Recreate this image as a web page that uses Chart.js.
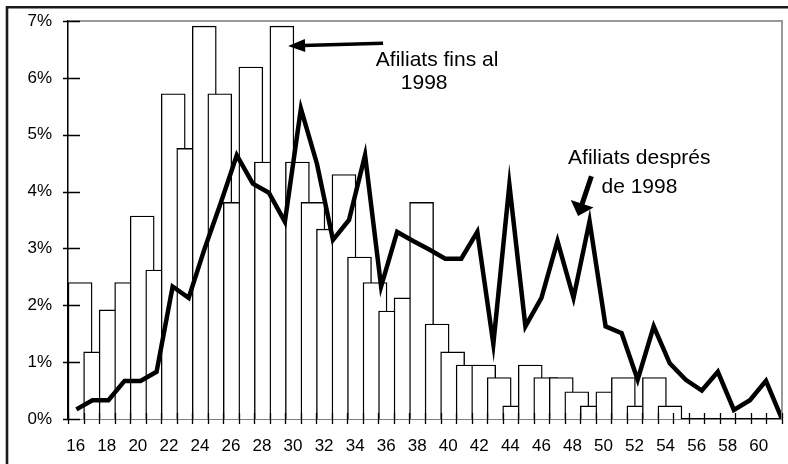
<!DOCTYPE html>
<html>
<head>
<meta charset="utf-8">
<script src="https://cdn.jsdelivr.net/npm/chart.js@4.4.1/dist/chart.umd.min.js"></script>
<style>
  html, body { margin: 0; padding: 0; background: #fff; }
</style>
</head>
<body>
<canvas id="c" width="788" height="464"></canvas>
<script>
// Ages on the category axis (every other one is labelled)
const ages = [16, 17, 18, 19, 20, 21, 22, 23, 24, 25, 26, 27, 28, 29, 30, 31, 32, 33, 34, 35,
              36, 37, 38, 39, 40, 41, 42, 43, 44, 45, 46, 47, 48, 49, 50, 51, 52, 53, 54, 55,
              56, 57, 58, 59, 60, 61];

// Bars: afiliats fins al 1998 (% per age)
const finsAl1998 = [2.40, 1.18, 1.92, 2.40, 3.57, 2.62, 5.72, 4.76, 6.91, 5.72,
                    3.81, 6.19, 4.52, 6.91, 4.52, 3.81, 3.34, 4.30, 2.85, 2.40,
                    1.90, 2.13, 3.81, 1.67, 1.18, 0.95, 0.95, 0.73, 0.23, 0.95,
                    0.73, 0.73, 0.48, 0.23, 0.48, 0.73, 0.23, 0.73, 0.23,
                    null, null, null, null, null, null, null];

// Line: afiliats després de 1998 (% per age)
const despres1998 = [0.17, 0.33, 0.33, 0.67, 0.67, 0.83, 2.33, 2.13, 3.00, 3.80,
                     4.64, 4.14, 3.98, 3.47, 5.46, 4.49, 3.15, 3.50, 4.64, 2.33,
                     3.29, 3.13, 2.98, 2.82, 2.82, 3.29, 1.32, 4.12, 1.63, 2.13,
                     3.13, 2.13, 3.48, 1.63, 1.51, 0.69, 1.63, 0.98, 0.69, 0.50,
                     0.83, 0.16, 0.33, 0.67, 0.00];

const yTicks = [0, 1, 2, 3, 4, 5, 6, 7];

const FONT = '"Liberation Sans", Arial, sans-serif';
const INK  = '#000';

// Text + arrows, anchored in (category index, %) units
const notes = [
  { text: 'Afiliats fins al', x: 19.33, y: 6.21 },
  { text: '1998',             x: 20.94, y: 5.80 },
  { text: 'Afiliats després', x: 31.72, y: 4.49 },
  { text: 'de 1998',          x: 33.87, y: 3.98 },
];
const arrows = [
  { from: [19.8, 6.61],  to: [13.68, 6.56], shaft: 3.5, head: 17, half: 6.5 },
  { from: [33.22, 4.27], to: [32.36, 3.57], shaft: 5,   head: 13, half: 12 },
];

const decorPlugin = {
  id: 'decor',
  beforeDraw(chart) {
    const { ctx } = chart;
    ctx.save();
    // outer frame (right/bottom fall outside the picture)
    ctx.strokeStyle = '#1a1a1a';
    ctx.lineWidth = 2.6;
    ctx.beginPath();
    ctx.moveTo(7, 470);
    ctx.lineTo(7, 7.3);
    ctx.lineTo(800, 7.3);
    ctx.stroke();
    ctx.restore();
  },
  afterDatasetsDraw(chart) {
    const { ctx, chartArea: a } = chart;
    const xs = chart.scales.x, ys = chart.scales.y;
    ctx.save();
    // plot frame, top and right in grey
    ctx.strokeStyle = '#999';
    ctx.lineWidth = 2;
    ctx.beginPath();
    ctx.moveTo(a.left, a.top);
    ctx.lineTo(a.right, a.top);
    ctx.lineTo(a.right, a.bottom);
    ctx.stroke();

    // cross tick marks
    ctx.strokeStyle = INK;
    ctx.lineWidth = 1.3;
    ctx.beginPath();
    yTicks.forEach(v => {
      const py = Math.round(ys.getPixelForValue(v)) + 0.5;
      ctx.moveTo(a.left - 5, py);
      ctx.lineTo(a.left + 12, py);
    });
    for (let k = 0; k <= ages.length; k++) {
      const px = Math.round(xs.getPixelForValue(k - 0.5)) + 0.5;
      ctx.moveTo(px, a.bottom - 6);
      ctx.lineTo(px, a.bottom + 5);
    }
    ctx.stroke();

    // notes
    ctx.fillStyle = INK;
    ctx.font = '21px ' + FONT;
    ctx.textBaseline = 'alphabetic';
    ctx.textAlign = 'left';
    notes.forEach(n => ctx.fillText(n.text, xs.getPixelForValue(n.x), ys.getPixelForValue(n.y)));

    arrows.forEach(ar => {
      const x0 = xs.getPixelForValue(ar.from[0]), y0 = ys.getPixelForValue(ar.from[1]);
      const x1 = xs.getPixelForValue(ar.to[0]),   y1 = ys.getPixelForValue(ar.to[1]);
      const ang = Math.atan2(y1 - y0, x1 - x0);
      const bx = x1 - Math.cos(ang) * ar.head, by = y1 - Math.sin(ang) * ar.head;
      ctx.lineWidth = ar.shaft;
      ctx.lineCap = 'butt';
      ctx.beginPath();
      ctx.moveTo(x0, y0);
      ctx.lineTo(bx + Math.cos(ang) * 2, by + Math.sin(ang) * 2);
      ctx.stroke();
      ctx.beginPath();
      ctx.moveTo(x1, y1);
      ctx.lineTo(bx + Math.sin(ang) * ar.half, by - Math.cos(ang) * ar.half);
      ctx.lineTo(bx - Math.sin(ang) * ar.half, by + Math.cos(ang) * ar.half);
      ctx.closePath();
      ctx.fill();
    });
    ctx.restore();
  },
};

new Chart(document.getElementById('c'), {
  type: 'bar',
  data: {
    labels: ages,
    datasets: [
      {
        type: 'line',
        label: 'Afiliats després de 1998',
        data: despres1998.map((v, i) => ({ x: i, y: v })),
        xAxisID: 'xl',
        yAxisID: 'y',
        borderColor: INK,
        borderWidth: 4.5,
        borderJoinStyle: 'miter',
        pointRadius: 0,
        tension: 0,
        fill: false,
        order: 0,
      },
      {
        type: 'bar',
        label: 'Afiliats fins al 1998',
        data: finsAl1998.map((v, i) => ({ x: i, y: v })),
        xAxisID: 'xb',
        yAxisID: 'y',
        backgroundColor: '#fff',
        borderColor: INK,
        borderWidth: 1.4,
        barThickness: 24,
        grouped: false,
        order: 1,
      },
    ],
  },
  options: {
    responsive: false,
    animation: false,
    layout: { padding: { top: 21, right: 6, left: 0, bottom: 0 } },
    plugins: {
      legend: { display: false },
      tooltip: { enabled: false },
    },
    scales: {
      x: {
        type: 'category',
        position: 'bottom',
        offset: true,
        grid: { display: false, drawTicks: false },
        border: { display: true, color: INK, width: 1.5 },
        ticks: {
          autoSkip: false,
          maxRotation: 0,
          padding: 17,
          color: INK,
          font: { family: FONT, size: 17 },
          callback: (v, i) => (i % 2 === 0 ? String(ages[i]) : ''),
        },
        afterFit: s => { s.height = 45; s.paddingLeft = 0; s.paddingRight = 0; },
      },
      xb: {
        type: 'linear',
        display: false,
        offset: false,
        min: -0.78,
        max: 45.22,
      },
      xl: {
        type: 'linear',
        display: false,
        offset: false,
        min: -0.524,
        max: 44.0,
      },
      y: {
        type: 'linear',
        min: 0,
        max: 7,
        grid: { display: false, drawTicks: false },
        border: { display: true, color: INK, width: 1.5 },
        ticks: {
          stepSize: 1,
          padding: 16,
          color: INK,
          font: { family: FONT, size: 17 },
          callback: v => v + '%',
        },
        afterFit: s => { s.width = 68; s.paddingTop = 0; s.paddingBottom = 0; },
      },
    },
  },
  plugins: [decorPlugin],
});
</script>
</body>
</html>
